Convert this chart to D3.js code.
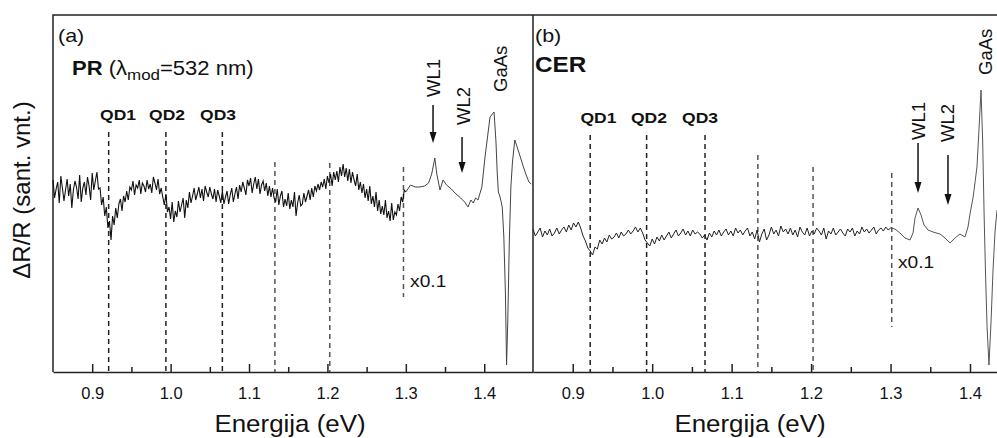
<!DOCTYPE html>
<html>
<head>
<meta charset="utf-8">
<script src="https://cdn.jsdelivr.net/npm/d3@7"></script>
<style>
  body { margin: 0; background: #fff; }
  text { font-family: "Liberation Sans", Arial, sans-serif; fill: #111; }
</style>
</head>
<body>
<div id="chart"></div>
<script>
// PR spectrum (panel a), 0.850 .. 1.300 eV every 2 meV, arb. units
var prStart = 0.85, prStep = 0.002;
var prValues = [
  1.2, -0.6, 0.3, 1.0, -1.1, 1.6, 0.4, -0.9, 0.2, 1.3,
  -0.4, 0.8, -1.6, 0.2, 1.1, 0.5, -0.7, 1.7, -1.0, 0.4,
  1.0, -0.3, 1.5, 0.6, -0.8, 1.9, 0.2, 1.1, 2.0, 0.3,
  0.4, -1.3, -0.5, -2.4, -1.5, -3.6, -2.9, -4.8, -2.4, -3.3,
  -1.6, -2.6, -1.2, -0.7, -1.9, -0.4, -1.0, 0.1, -0.8, 0.5,
  0.2, 1.1, -0.3, 0.7, 0.4, 1.2, -0.2, 0.9, 0.6, 0.0,
  1.2, 0.3, 0.8, -0.1, 1.5, 0.9, 0.2, 1.3, -0.2, 0.4,
  -0.5, -1.3, -0.2, -2.0, -1.5, -2.7, -1.0, -3.0, -1.9, -2.5,
  -0.9, -2.0, -1.3, -0.6, -2.6, -0.8, -1.6, 0.0, -1.1, -0.4,
  0.4, -0.8, -0.2, 0.5, -0.6, 0.3, -0.9, 0.6, 0.0, -0.5,
  0.5, -0.2, -0.7, 0.3, -1.0, 0.2, -0.4, -1.1, 0.1, -1.2,
  -0.5, 0.1, -1.2, -0.3, 0.4, -1.0, -0.2, 0.5, -0.7, 0.7,
  0.0, 1.0, 0.4, -0.3, 1.2, 0.6, 1.4, -0.1, 0.8, 1.5,
  0.3, 1.3, -0.2, 0.7, 1.1, 0.1, 0.9, -0.4, 0.6, -0.5,
  0.4, -0.6, -1.0, 0.3, -1.3, -0.4, 0.1, -1.5, -0.7, -1.4,
  -0.1, -1.7, -0.8, -1.5, 0.0, -2.4, -1.1, -0.3, -1.4, -1.2,
  -0.1, -1.0, -0.4, 0.2, -0.8, 0.4, -0.5, 0.6, 0.1, 0.8,
  0.2, 1.0, 0.5, 1.3, 0.3, 1.6, 0.9, 1.8, 0.6, 2.0,
  1.2, 2.1, 1.0, 2.5, 1.6, 2.8, 1.5, 2.4, 1.1, 2.3,
  0.9, 2.0, 1.2, 0.6, 1.8, 0.2, 1.0, -0.1, 0.8, -0.6,
  0.3, -0.9, 0.6, -1.2, -0.4, -1.5, 0.0, -1.9, -0.8, -2.2,
  -1.4, -2.3, -0.8, -2.6, -1.9, -2.9, -1.1, -2.8, -2.0, -2.3,
  -1.2, -1.9, -0.5, -1.0, 0.2, 0.0
];
// PR above 1.30 eV, shown x0.1: [energy, value]
var prScaled = [
  [1.300, 0.0], [1.306, 0.7], [1.312, 0.5], [1.318, 0.5], [1.324, 0.6], [1.329, 0.9],
  [1.333, 1.8], [1.337, 3.4], [1.3395, 1.8], [1.3436, 0.2], [1.3474, 1.2], [1.352, 0.7],
  [1.358, 0.3], [1.364, -0.2], [1.370, -0.6], [1.375, -1.0], [1.3793, -1.5], [1.383, -0.8],
  [1.386, -1.1], [1.389, -0.6], [1.392, -0.8], [1.397, 0.5], [1.401, 3.5], [1.4074, 7.5],
  [1.4125, 8.0], [1.415, 5.0], [1.4165, 2.0], [1.418, 0.0], [1.4202, -0.5], [1.423, -1.5],
  [1.425, -4.5], [1.427, -10.0], [1.4285, -17.3], [1.430, -13.0], [1.432, -5.0], [1.434, 0.5],
  [1.436, 3.0], [1.439, 5.2], [1.442, 4.5], [1.446, 3.5], [1.450, 2.5], [1.454, 1.6],
  [1.457, 1.0], [1.460, 0.8]
];

// CER spectrum (panel b), 0.850 .. 1.300 eV every 3 meV
var cerStart = 0.85, cerStep = 0.003;
var cerValues = [
  -3.7, -4.4, -4.0, -3.6, -4.5, -3.9, -4.3, -3.7, -4.4, -4.1,
  -3.6, -4.2, -3.8, -3.5, -4.0, -3.3, -3.8, -3.1, -3.5, -3.0,
  -3.6, -4.4, -4.9, -5.6, -5.9, -6.3, -5.5, -5.7, -4.8, -5.2,
  -4.6, -5.0, -4.3, -4.7, -4.5, -4.1, -4.6, -4.0, -4.4, -4.2,
  -3.8, -4.2, -3.9, -3.5, -4.0, -3.6, -4.1, -4.8, -5.1, -5.4,
  -4.7, -5.2, -4.5, -4.9, -4.3, -4.8, -4.4, -4.0, -4.6, -4.2,
  -3.8, -4.4, -4.1, -3.7, -4.3, -3.9, -4.4, -3.8, -4.2, -4.0,
  -4.2, -4.6, -4.3, -4.8, -4.1, -4.5, -3.9, -4.3, -3.8, -4.4,
  -4.0, -3.7, -4.3, -3.9, -4.4, -3.6, -4.1, -3.8, -4.3, -3.9,
  -3.6, -4.4, -4.0, -4.7, -3.8, -5.0, -4.2, -3.7, -4.8, -4.3,
  -3.5, -4.2, -3.8, -4.4, -3.4, -4.0, -3.7, -4.2, -3.6, -4.3,
  -3.8, -4.5, -3.5, -4.0, -4.3, -3.6, -4.4, -3.9, -4.2, -3.6,
  -3.9, -4.3, -3.6, -4.7, -3.9, -4.2, -3.6, -4.3, -4.0, -3.7,
  -4.1, -4.4, -3.7, -4.0, -3.6, -4.4, -3.9, -4.2, -3.5, -4.0,
  -3.7, -4.1, -3.8, -3.5, -4.2, -3.8, -3.6, -3.9, -3.5, -3.8,
  -3.6
];
var cerScaled = [
  [1.300, -3.6], [1.3056, -3.7], [1.3119, -4.1], [1.3182, -4.6], [1.3245, -4.8], [1.3283, -4.1],
  [1.3308, -2.6], [1.3346, -1.6], [1.3384, -2.3], [1.3421, -3.3], [1.3472, -3.8], [1.3535, -4.0],
  [1.3623, -4.2], [1.3686, -4.6], [1.3749, -5.1], [1.3812, -4.6], [1.3874, -4.2], [1.3937, -4.5],
  [1.3975, -3.5], [1.400, -2.2], [1.404, -0.5], [1.4088, 2.5], [1.4115, 6.5], [1.4139, 10.2],
  [1.416, 5.0], [1.4177, -2.0], [1.4195, -8.0], [1.4215, -13.5], [1.4239, -17.3], [1.4265, -13.0],
  [1.429, -7.8], [1.4315, -4.0], [1.434, -1.8]
];

// dashed marker lines: energy, top, bottom
var prMarkE = [0.921, 0.994, 1.066, 1.133, 1.203, 1.297];
var prMarkTop = [6.0, 6.0, 6.0, 3.0, 2.9, 2.5];
var prMarkBottom = [-18, -18, -18, -18, -18, -10.5];
var cerMarkE = [0.922, 0.993, 1.0665, 1.133, 1.2025, 1.3015];
var cerMarkTop = [5.7, 5.7, 5.7, 3.7, 2.5, 1.9];
var cerMarkBottom = [-18, -18, -18, -18, -18, -13.5];

var qdLabels = ["QD1", "QD2", "QD3"];
var prQdE = [0.933, 0.9955, 1.0605];
var cerQdE = [0.9324, 0.996, 1.0602];

var majorTicks = [0.9, 1.0, 1.1, 1.2, 1.3, 1.4];
var minorTicks = [0.95, 1.05, 1.15, 1.25, 1.35];

var width = 997, height = 438;
var svg = d3.select("#chart").append("svg")
    .attr("width", width)
    .attr("height", height);

var y = d3.scaleLinear().domain([-18, 17.7]).range([372, 15]);
var xA = d3.scaleLinear().domain([0.85, 1.4622]).range([53, 533]);
var xB = d3.scaleLinear().domain([0.85, 1.434]).range([533, 997]);

// frame
svg.append("path")
    .attr("d", "M53,372V15H997M533,15V372")
    .attr("fill", "none").attr("stroke", "#222").attr("stroke-width", 1.5);

function drawAxis(x) {
  var g = svg.append("g").attr("transform", "translate(0,372)")
      .call(d3.axisBottom(x).tickValues(majorTicks).tickSizeInner(-8).tickSizeOuter(0)
        .tickPadding(15).tickFormat(d3.format(".1f")));
  g.select(".domain").attr("stroke", "#222").attr("stroke-width", 1.5);
  g.selectAll(".tick line").attr("stroke", "#222").attr("stroke-width", 1.5);
  g.selectAll("text").attr("font-size", 16.5).attr("fill", "#222")
      .attr("font-family", "Liberation Sans, Arial, sans-serif");
  var m = svg.append("g").attr("transform", "translate(0,372)")
      .call(d3.axisBottom(x).tickValues(minorTicks).tickSizeInner(-5).tickSizeOuter(0).tickFormat(""));
  m.select(".domain").remove();
  m.selectAll(".tick line").attr("stroke", "#222").attr("stroke-width", 1.5);
}
drawAxis(xA);
drawAxis(xB);

function lineFor(x) {
  return d3.line().x(function(d) { return x(d[0]); }).y(function(d) { return y(d[1]); });
}

function markers(x, es, tops, bottoms) {
  es.forEach(function(e, i) {
    svg.append("line")
        .attr("x1", x(e)).attr("x2", x(e))
        .attr("y1", y(tops[i])).attr("y2", y(bottoms[i]))
        .attr("stroke", i < 3 ? "#222" : "#555")
        .attr("stroke-width", 1.5)
        .attr("stroke-dasharray", "5,4");
  });
}
markers(xA, prMarkE, prMarkTop, prMarkBottom);
markers(xB, cerMarkE, cerMarkTop, cerMarkBottom);

var prMain = prValues.map(function(v, i) { return [prStart + i * prStep, v]; });
var cerMain = cerValues.map(function(v, i) { return [cerStart + i * cerStep, v]; });

svg.append("path").attr("d", lineFor(xA)(prMain))
    .attr("fill", "none").attr("stroke", "#111").attr("stroke-width", 1.1);
svg.append("path").attr("d", lineFor(xA)(prScaled))
    .attr("fill", "none").attr("stroke", "#444").attr("stroke-width", 1);
svg.append("path").attr("d", lineFor(xB)(cerMain))
    .attr("fill", "none").attr("stroke", "#222").attr("stroke-width", 1);
svg.append("path").attr("d", lineFor(xB)(cerScaled))
    .attr("fill", "none").attr("stroke", "#555").attr("stroke-width", 1);

// text helpers
function label(str, px, py, opts) {
  opts = opts || {};
  var tr = "translate(" + px + "," + py + ")";
  tr += opts.rotate ? " rotate(-90)" : " scale(" + (opts.sx || 1.13) + ",1)";
  var t = svg.append("text")
      .attr("transform", tr)
      .attr("font-size", opts.size || 18)
      .attr("text-anchor", opts.anchor || "start")
      .attr("font-weight", opts.bold ? "bold" : null)
      .text(str);
  if (opts.rotate) t.attr("dy", "0.35em");
  return t;
}

function arrow(x, e, top, tip) {
  var px = x(e), y0 = y(top), y1 = y(tip);
  svg.append("line").attr("x1", px).attr("x2", px).attr("y1", y0).attr("y2", y1 - 8)
      .attr("stroke", "#111").attr("stroke-width", 1.5);
  svg.append("path")
      .attr("d", "M" + (px - 3.5) + "," + (y1 - 11) + "L" + (px + 3.5) + "," + (y1 - 11) + "L" + px + "," + y1 + "Z")
      .attr("fill", "#111");
}

// panel (a)
label("(a)", xA(0.8564), 42, {size: 19});
var pr = label("", xA(0.8742), 75, {size: 19.5});
pr.append("tspan").attr("font-weight", "bold").text("PR");
pr.append("tspan").text(" (λ");
pr.append("tspan").attr("font-size", 15).attr("dy", 5).text("mod");
pr.append("tspan").attr("dy", -5).text("=532 nm)");
qdLabels.forEach(function(s, i) {
  label(s, xA(prQdE[i]), y(7.2), {size: 15.5, bold: true, anchor: "middle"});
});
label("WL1", xA(1.3347), y(9.5), {rotate: true, size: 18.5});
label("WL2", xA(1.373), y(6.7), {rotate: true, size: 18.5});
label("GaAs", xA(1.4202), y(10.0), {rotate: true, size: 18.5});
arrow(xA, 1.3347, 8.7, 4.9);
arrow(xA, 1.3717, 5.5, 1.9);
label("x0.1", xA(1.3054), 287, {size: 17});
label("Energija (eV)", xA(1.1523), 432, {size: 24, anchor: "middle", sx: 1.08});

// panel (b)
label("(b)", xB(0.8525), 42, {size: 19});
label("CER", xB(0.8525), 72, {size: 21.5, bold: true});
qdLabels.forEach(function(s, i) {
  label(s, xB(cerQdE[i]), y(6.9), {size: 15.5, bold: true, anchor: "middle"});
});
label("WL1", xB(1.3346), y(5.2), {rotate: true, size: 18.5});
label("WL2", xB(1.3723), y(5.0), {rotate: true, size: 18.5});
label("GaAs", xB(1.419), y(11.7), {rotate: true, size: 18.5});
arrow(xB, 1.3346, 4.9, -0.1);
arrow(xB, 1.3723, 3.7, -1.3);
label("x0.1", xB(1.3094), 268, {size: 17});
label("Energija (eV)", xB(1.1231), 432, {size: 24, anchor: "middle", sx: 1.08});

// y axis title
svg.append("text")
    .attr("transform", "translate(22,190) rotate(-90)")
    .attr("font-size", 24)
    .attr("text-anchor", "middle")
    .attr("dy", "0.35em")
    .text("ΔR/R (sant. vnt.)");
</script>
</body>
</html>
